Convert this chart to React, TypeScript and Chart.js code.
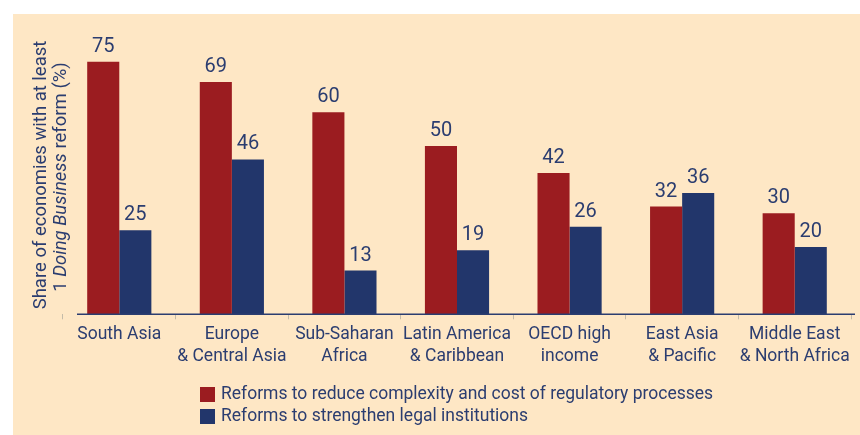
import React, { useEffect, useRef } from "react";
import { Chart, registerables } from "chart.js";

Chart.register(...registerables);

const categories: string[][] = [
  ["South Asia"],
  ["Europe", "& Central Asia"],
  ["Sub-Saharan", "Africa"],
  ["Latin America", "& Caribbean"],
  ["OECD high", "income"],
  ["East Asia", "& Pacific"],
  ["Middle East", "& North Africa"],
];
const regulatoryValues = [75, 69, 60, 50, 42, 32, 30];
const legalValues = [25, 46, 13, 19, 26, 36, 20];
const seriesLabels = [
  "Reforms to reduce complexity and cost of regulatory processes",
  "Reforms to strengthen legal institutions",
];
const yTitleLine1 = "Share of economies with at least";
const yTitleLine2 = ["1 ", "Doing Business", " reform (%)"];

const RED = "#9b1c20";
const BLUE = "#22366b";
const TEXT = "#2b3d70";
const BG = "#fee7c5";
const FONT = "Roboto";

const valueLabelPlugin = {
  id: "valueLabels",
  afterDatasetsDraw(chart: any) {
    const ctx = chart.ctx;
    ctx.save();
    ctx.font = `20px ${FONT}`;
    ctx.fillStyle = TEXT;
    ctx.textAlign = "center";
    ctx.textBaseline = "bottom";
    chart.data.datasets.forEach((ds: any, di: number) => {
      const meta = chart.getDatasetMeta(di);
      meta.data.forEach((bar: any, i: number) => {
        ctx.fillText(String(ds.data[i]), bar.x, bar.y - 5);
      });
    });
    ctx.restore();
  },
};

const axisLinePlugin = {
  id: "axisLine",
  afterDatasetsDraw(chart: any) {
    const ctx = chart.ctx;
    const { left, right, bottom } = chart.chartArea;
    ctx.save();
    ctx.strokeStyle = TEXT;
    ctx.lineWidth = 1.5;
    ctx.beginPath();
    ctx.moveTo(left + 14, bottom);
    ctx.lineTo(right + 4, bottom);
    ctx.stroke();
    ctx.restore();
  },
};

const yTitlePlugin = {
  id: "yTitle",
  afterDraw(chart: any) {
    const ctx = chart.ctx;
    const cy = 161;
    const size = 18.5;
    ctx.save();
    ctx.fillStyle = TEXT;
    ctx.textBaseline = "middle";
    ctx.save();
    ctx.translate(28, cy);
    ctx.rotate(-Math.PI / 2);
    ctx.font = `${size}px ${FONT}`;
    ctx.textAlign = "center";
    ctx.fillText(yTitleLine1, 0, 0);
    ctx.restore();
    ctx.save();
    ctx.translate(48, cy + 2);
    ctx.rotate(-Math.PI / 2);
    ctx.textAlign = "left";
    const fonts = [`${size}px ${FONT}`, `italic ${size}px ${FONT}`, `${size}px ${FONT}`];
    let total = 0;
    const widths = yTitleLine2.map((t, i) => {
      ctx.font = fonts[i];
      const w = ctx.measureText(t).width;
      total += w;
      return w;
    });
    let x = -total / 2;
    yTitleLine2.forEach((t, i) => {
      ctx.font = fonts[i];
      ctx.fillText(t, x, 0);
      x += widths[i];
    });
    ctx.restore();
    ctx.restore();
  },
};

const legendPlugin = {
  id: "customLegend",
  afterDraw(chart: any) {
    const ctx = chart.ctx;
    ctx.save();
    ctx.font = `17.5px ${FONT}`;
    ctx.textBaseline = "middle";
    ctx.textAlign = "left";
    chart.data.datasets.forEach((ds: any, i: number) => {
      const top = 373 + i * 22;
      ctx.fillStyle = ds.backgroundColor;
      ctx.fillRect(187, top, 15, 15);
      ctx.fillStyle = TEXT;
      ctx.fillText(ds.label, 208, top + 8);
    });
    ctx.restore();
  },
};

export default function App() {
  const ref = useRef<HTMLCanvasElement | null>(null);
  useEffect(() => {
    if (!ref.current) return;
    const chart = new Chart(ref.current, {
      type: "bar",
      data: {
        labels: categories,
        datasets: [
          { label: seriesLabels[0], data: regulatoryValues, backgroundColor: RED },
          { label: seriesLabels[1], data: legalValues, backgroundColor: BLUE },
        ],
      },
      options: {
        animation: false,
        responsive: false,
        devicePixelRatio: 1,
        layout: { padding: { left: 50, right: 9, top: 31, bottom: 63 } },
        datasets: { bar: { barPercentage: 1, categoryPercentage: 0.57 } },
        plugins: { legend: { display: false }, tooltip: { enabled: false } },
        scales: {
          x: {
            grid: { display: true, drawOnChartArea: false, drawTicks: true, tickLength: 5, color: "#c4bba8" },
            border: { display: false },
            ticks: { color: TEXT, font: { family: FONT, size: 17.5, lineHeight: 1.22 }, padding: 5, maxRotation: 0, autoSkip: false },
          },
          y: { display: false, min: 0, max: 80 },
        },
      },
      plugins: [valueLabelPlugin, axisLinePlugin, yTitlePlugin, legendPlugin],
    });
    return () => chart.destroy();
  }, []);
  return (
    <div style={{ position: "fixed", left: 0, top: 0, width: 860, height: 435, background: "#fff" }}>
      <div style={{ position: "absolute", left: 13, top: 14, width: 847, height: 421, background: BG }}>
        <canvas ref={ref} width={847} height={421} style={{ display: "block" }} />
      </div>
    </div>
  );
}
